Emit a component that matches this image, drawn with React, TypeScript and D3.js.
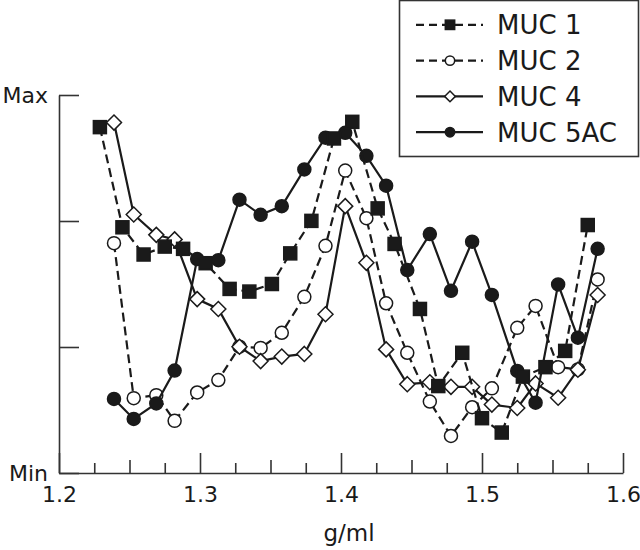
import React, { useEffect, useRef } from 'react';
import * as d3 from 'd3';

// density (g/ml) of each fraction; MUC 1 was read on a slightly offset set of fractions
const muc1Density = [
  1.229, 1.245, 1.26, 1.275, 1.288, 1.304, 1.321, 1.335, 1.351, 1.364, 1.379, 1.395,
  1.408, 1.426, 1.438, 1.456, 1.469, 1.486, 1.5, 1.514, 1.529, 1.545, 1.559, 1.575,
];
const fractionDensity = [
  1.239, 1.253, 1.269, 1.282, 1.298, 1.313, 1.328, 1.343, 1.358, 1.374, 1.389, 1.403,
  1.418, 1.432, 1.447, 1.463, 1.478, 1.493, 1.507, 1.525, 1.538, 1.554, 1.568, 1.582,
];

// relative mucin level, 0 = Min, 1 = Max
const muc1 = [
  0.915, 0.65, 0.578, 0.599, 0.593, 0.555, 0.487, 0.48, 0.5, 0.581, 0.667, 0.885,
  0.929, 0.7, 0.606, 0.434, 0.23, 0.318, 0.145, 0.107, 0.255, 0.28, 0.323, 0.656,
];
const muc2 = [
  0.608, 0.198, 0.206, 0.138, 0.213, 0.246, 0.334, 0.331, 0.371, 0.466, 0.601, 0.8,
  0.674, 0.449, 0.318, 0.189, 0.098, 0.174, 0.224, 0.384, 0.442, 0.28, 0.274, 0.512,
];
const muc4 = [
  0.927, 0.684, 0.63, 0.618, 0.46, 0.434, 0.334, 0.296, 0.308, 0.315, 0.42, 0.706,
  0.556, 0.327, 0.235, 0.24, 0.228, 0.228, 0.181, 0.172, 0.237, 0.199, 0.273, 0.471,
];
const muc5ac = [
  0.196, 0.143, 0.184, 0.271, 0.566, 0.563, 0.723, 0.683, 0.706, 0.803, 0.887, 0.9,
  0.839, 0.76, 0.537, 0.632, 0.482, 0.612, 0.471, 0.27, 0.186, 0.499, 0.358, 0.593,
];

const seriesNames = ['MUC 1', 'MUC 2', 'MUC 4', 'MUC 5AC'];
const majorTicks = [1.2, 1.3, 1.4, 1.5, 1.6];
const yTicks = [0, 1 / 3, 2 / 3, 1];

const FONT = '"DejaVu Sans", sans-serif';
const INK = '#1a1a1a';

type Series = {
  name: string;
  xs: number[];
  ys: number[];
  shape: 'square' | 'circle' | 'diamond';
  filled: boolean;
  dashed: boolean;
};

export default function App() {
  const ref = useRef<SVGSVGElement>(null);

  useEffect(() => {
    const width = 640;
    const height = 550;
    const svg = d3.select(ref.current).attr('width', width).attr('height', height);
    svg.selectAll('*').remove();

    const x = d3.scaleLinear().domain([1.2, 1.6]).range([59, 623]);
    const y = d3.scaleLinear().domain([0, 1]).range([473, 95]);

    // x axis: labelled major ticks, plus medium and small minor ticks, all pointing up
    svg
      .append('g')
      .attr('transform', `translate(0,${y(0)})`)
      .call(
        d3
          .axisBottom(x)
          .tickValues(majorTicks)
          .tickSize(-20)
          .tickSizeOuter(0)
          .tickPadding(13)
          .tickFormat(d3.format('.1f') as any)
      );
    const halfTicks = d3.range(1.25, 1.6, 0.1);
    const quarterTicks = d3.range(1.225, 1.6, 0.05);
    svg
      .append('g')
      .attr('transform', `translate(0,${y(0)})`)
      .call(d3.axisBottom(x).tickValues(halfTicks).tickSize(-13).tickFormat(() => ''))
      .call((g) => g.select('.domain').remove());
    svg
      .append('g')
      .attr('transform', `translate(0,${y(0)})`)
      .call(d3.axisBottom(x).tickValues(quarterTicks).tickSize(-10).tickFormat(() => ''))
      .call((g) => g.select('.domain').remove());

    svg
      .append('g')
      .attr('transform', `translate(${x(1.2)},0)`)
      .call(
        d3
          .axisLeft(y)
          .tickValues(yTicks)
          .tickSize(-20)
          .tickSizeOuter(0)
          .tickPadding(11)
          .tickFormat((d: any) => (d === 1 ? 'Max' : d === 0 ? 'Min' : ''))
      );

    svg.selectAll('.domain, .tick line').attr('stroke', '#333').attr('stroke-width', 1.6);
    svg.selectAll('.tick text').attr('fill', INK).style('font-family', FONT).style('font-size', '22px');

    svg
      .append('text')
      .attr('x', 349)
      .attr('y', 541)
      .attr('text-anchor', 'middle')
      .attr('fill', INK)
      .style('font-family', FONT)
      .style('font-size', '23px')
      .text('g/ml');

    const series: Series[] = [
      { name: seriesNames[1], xs: fractionDensity, ys: muc2, shape: 'circle', filled: false, dashed: true },
      { name: seriesNames[2], xs: fractionDensity, ys: muc4, shape: 'diamond', filled: false, dashed: false },
      { name: seriesNames[3], xs: fractionDensity, ys: muc5ac, shape: 'circle', filled: true, dashed: false },
      { name: seriesNames[0], xs: muc1Density, ys: muc1, shape: 'square', filled: true, dashed: true },
    ];

    const marker = (g: any, s: Series, cx: number, cy: number, scale: number) => {
      const fill = s.filled ? INK : '#fff';
      if (s.shape === 'square') {
        const h = 6.5 * scale;
        g.append('rect').attr('x', cx - h).attr('y', cy - h).attr('width', 2 * h).attr('height', 2 * h)
          .attr('fill', fill).attr('stroke', INK).attr('stroke-width', 1.5);
      } else if (s.shape === 'circle') {
        g.append('circle').attr('cx', cx).attr('cy', cy).attr('r', 6.5 * scale)
          .attr('fill', fill).attr('stroke', INK).attr('stroke-width', 1.5);
      } else {
        const h = 7.5 * scale;
        g.append('path').attr('d', `M${cx},${cy - h}L${cx + h},${cy}L${cx},${cy + h}L${cx - h},${cy}Z`)
          .attr('fill', fill).attr('stroke', INK).attr('stroke-width', 1.5);
      }
    };

    series.forEach((s) => {
      const g = svg.append('g');
      const pts = s.xs.map((d, i) => [x(d), y(s.ys[i])] as [number, number]);
      g.append('path')
        .attr('d', d3.line()(pts))
        .attr('fill', 'none')
        .attr('stroke', INK)
        .attr('stroke-width', 2.2)
        .attr('stroke-dasharray', s.dashed ? '9,5' : null);
      pts.forEach(([cx, cy]) => marker(g, s, cx, cy, 1));
    });

    // legend
    const legend = svg.append('g');
    legend
      .append('rect')
      .attr('x', 399.5)
      .attr('y', 0.5)
      .attr('width', 239)
      .attr('height', 156)
      .attr('fill', '#fff')
      .attr('stroke', '#333')
      .attr('stroke-width', 1.6);
    const legendOrder = [series[3], series[0], series[1], series[2]];
    legendOrder.forEach((s, i) => {
      const base = 34.3 + i * 35.8;
      const cy = base - 9.5;
      legend
        .append('line')
        .attr('x1', 416)
        .attr('x2', 483)
        .attr('y1', cy)
        .attr('y2', cy)
        .attr('stroke', INK)
        .attr('stroke-width', 2.2)
        .attr('stroke-dasharray', s.dashed ? '8,5' : null);
      marker(legend, s, 450, cy, 0.72);
      legend
        .append('text')
        .attr('x', 497)
        .attr('y', base)
        .attr('fill', INK)
        .style('font-family', FONT)
        .style('font-size', '26px')
        .text(s.name);
    });
  }, []);

  return (
    <div style={{ position: 'absolute', left: 0, top: 0 }}>
      <svg ref={ref} style={{ display: 'block', background: '#fff' }} />
    </div>
  );
}
